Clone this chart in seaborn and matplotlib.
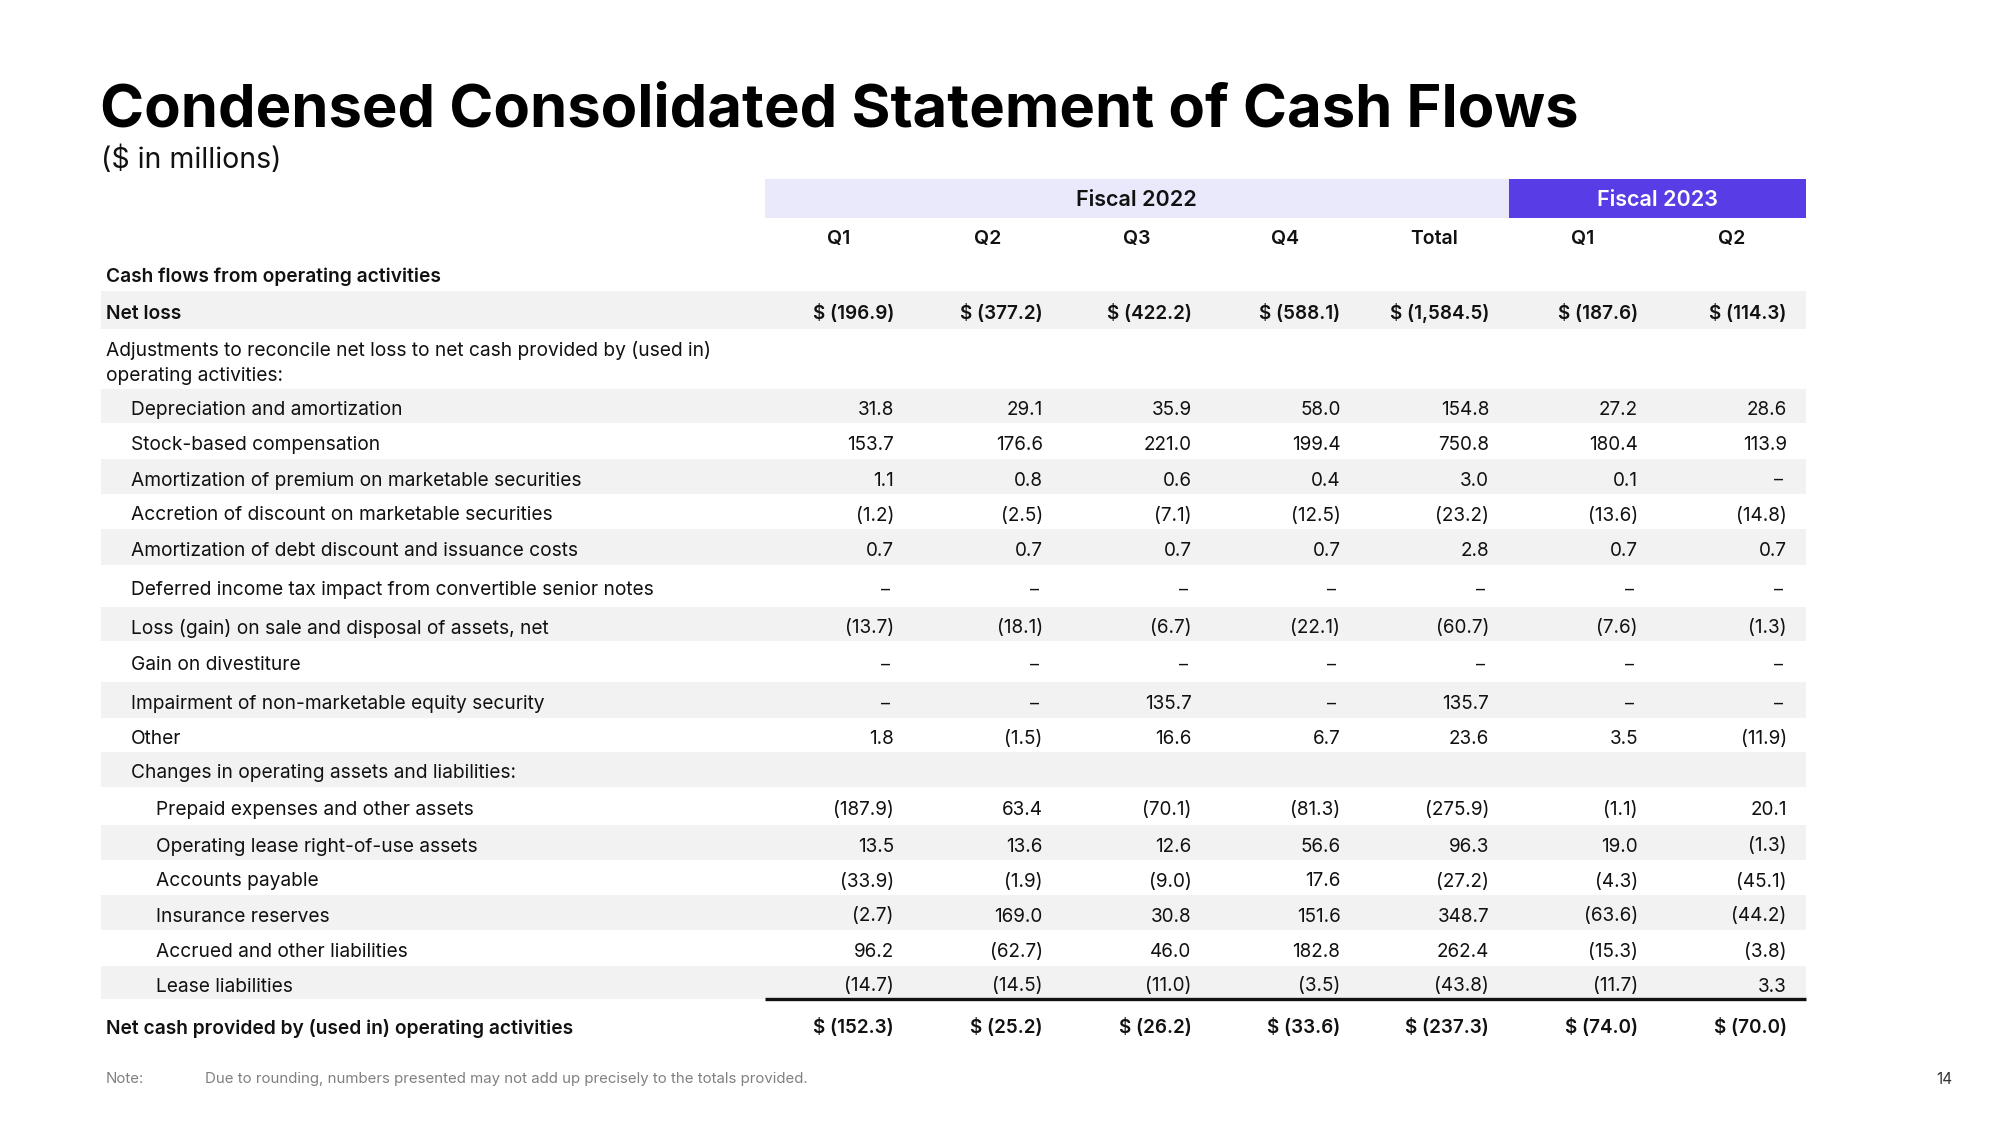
import numpy as np
import pandas as pd
import seaborn as sns
import matplotlib.pyplot as plt

# ---------------- data ----------------
row_labels = [
    "Cash flows from operating activities",
    "Net loss",
    "Adjustments to reconcile net loss to net cash provided by (used in)\noperating activities:",
    "Depreciation and amortization",
    "Stock-based compensation",
    "Amortization of premium on marketable securities",
    "Accretion of discount on marketable securities",
    "Amortization of debt discount and issuance costs",
    "Deferred income tax impact from convertible senior notes",
    "Loss (gain) on sale and disposal of assets, net",
    "Gain on divestiture",
    "Impairment of non-marketable equity security",
    "Other",
    "Changes in operating assets and liabilities:",
    "Prepaid expenses and other assets",
    "Operating lease right-of-use assets",
    "Accounts payable",
    "Insurance reserves",
    "Accrued and other liabilities",
    "Lease liabilities",
    "Net cash provided by (used in) operating activities",
]
row_indent = [0, 0, 0, 1, 1, 1, 1, 1, 1, 1, 1, 1, 1, 1, 2, 2, 2, 2, 2, 2, 0]
row_bold = [True, True] + [False] * 18 + [True]
row_dollar = [False, True] + [False] * 18 + [True]

col_labels = ["Q1", "Q2", "Q3", "Q4", "Total", "Q1", "Q2"]
col_fiscal = ["Fiscal 2022"] * 5 + ["Fiscal 2023"] * 2

nan = np.nan
fy22_q1 = [nan, -196.9, nan, 31.8, 153.7, 1.1, -1.2, 0.7, 0, -13.7, 0, 0, 1.8, nan,
           -187.9, 13.5, -33.9, -2.7, 96.2, -14.7, -152.3]
fy22_q2 = [nan, -377.2, nan, 29.1, 176.6, 0.8, -2.5, 0.7, 0, -18.1, 0, 0, -1.5, nan,
           63.4, 13.6, -1.9, 169.0, -62.7, -14.5, -25.2]
fy22_q3 = [nan, -422.2, nan, 35.9, 221.0, 0.6, -7.1, 0.7, 0, -6.7, 0, 135.7, 16.6, nan,
           -70.1, 12.6, -9.0, 30.8, 46.0, -11.0, -26.2]
fy22_q4 = [nan, -588.1, nan, 58.0, 199.4, 0.4, -12.5, 0.7, 0, -22.1, 0, 0, 6.7, nan,
           -81.3, 56.6, 17.6, 151.6, 182.8, -3.5, -33.6]
fy22_total = [nan, -1584.5, nan, 154.8, 750.8, 3.0, -23.2, 2.8, 0, -60.7, 0, 135.7, 23.6, nan,
              -275.9, 96.3, -27.2, 348.7, 262.4, -43.8, -237.3]
fy23_q1 = [nan, -187.6, nan, 27.2, 180.4, 0.1, -13.6, 0.7, 0, -7.6, 0, 0, 3.5, nan,
           -1.1, 19.0, -4.3, -63.6, -15.3, -11.7, -74.0]
fy23_q2 = [nan, -114.3, nan, 28.6, 113.9, 0, -14.8, 0.7, 0, -1.3, 0, 0, -11.9, nan,
           20.1, -1.3, -45.1, -44.2, -3.8, 3.3, -70.0]

df = pd.DataFrame(
    np.column_stack([fy22_q1, fy22_q2, fy22_q3, fy22_q4, fy22_total, fy23_q1, fy23_q2]),
    index=row_labels,
)

# ---------------- layout ----------------
table_top = 255
row_h = [36, 38, 60, 34, 36, 35, 35, 36, 42, 34, 41, 36, 34, 35, 38, 35, 35, 35, 36, 33, 51]
row_top = table_top + np.concatenate([[0], np.cumsum(row_h)[:-1]])
row_mid = row_top + np.array(row_h) / 2
left_x = 101
col_step = 148.8
col_center = 839 + col_step * np.arange(len(col_labels))
col_right = col_center + 55
indent_x = [106, 131, 156]

FONT = ["Inter", "DejaVu Sans"]
BAND = "#f2f2f2"
FY22 = "#e9e9fb"
FY23 = "#583ce6"


def fmt(v, dollar):
    if np.isnan(v):
        return ""
    if v == 0:
        return "–"
    s = f"{abs(v):,.1f}"
    s = f"({s})" if v < 0 else s
    return f"$ {s}" if dollar else s


sns.set_theme(style="white")
plt.rcParams["font.family"] = FONT

fig = plt.figure(figsize=(20, 11.25), dpi=100)
ax = fig.add_axes([0, 0, 1, 1])
ax.set_xlim(0, 2000)
ax.set_ylim(1125, 0)
ax.axis("off")

# title
ax.text(left_x - 1, 111, "Condensed Consolidated Statement of Cash Flows", fontsize=43,
        fontweight="bold", va="center", ha="left", color="#000000")
ax.text(left_x, 160, "($ in millions)", fontsize=20.5, va="center", ha="left", color="#111111")

# fiscal header bands
band_l = col_center - col_step / 2
band_r = col_center + col_step / 2
for fy, fc, tc in [("Fiscal 2022", FY22, "#111111"), ("Fiscal 2023", FY23, "white")]:
    idx = [i for i, f in enumerate(col_fiscal) if f == fy]
    x0, x1 = band_l[idx[0]], band_r[idx[-1]]
    ax.add_patch(plt.Rectangle((x0, 179), x1 - x0, 39, color=fc, lw=0))
    ax.text((x0 + x1) / 2, 200, fy, fontsize=15.5, fontweight="semibold", ha="center",
            va="center", color=tc)

for c, lab in enumerate(col_labels):
    ax.text(col_center[c], 239, lab, fontsize=14, fontweight="semibold", ha="center",
            va="center", color="#111111")

# rows
for r, lab in enumerate(row_labels):
    if r % 2 == 1 and r < len(row_labels) - 1:
        ax.add_patch(plt.Rectangle((left_x, row_top[r]), band_r[-1] - left_x, row_h[r],
                                   color=BAND, lw=0))
    ax.text(indent_x[row_indent[r]], row_mid[r] + 4, lab, fontsize=13.8,
            fontweight="semibold" if row_bold[r] else "normal", ha="left", va="center",
            color="#111111", linespacing=1.5)
    for c in range(len(col_labels)):
        s = fmt(df.iloc[r, c], row_dollar[r])
        if s == "–":
            ax.text(col_right[c] - 4, row_mid[r] + 4, s, fontsize=13, ha="right", va="center",
                    color="#111111")
        elif s:
            ax.text(col_right[c], row_mid[r] + 9, s, fontsize=13.6,
                    fontweight="semibold" if row_bold[r] else "normal",
                    ha="right", va="baseline", color="#111111")

# total rule
ax.plot([band_l[0], band_r[-1]], [row_top[-1], row_top[-1]], color="#111111", lw=2.4,
        solid_capstyle="butt")

# footer
ax.text(106, 1079, "Note:", fontsize=10.8, color="#808080", va="center")
ax.text(205, 1079, "Due to rounding, numbers presented may not add up precisely to the totals provided.",
        fontsize=10.8, color="#808080", va="center")
ax.text(1952, 1080, "14", fontsize=11, color="#333333", va="center", ha="right")

fig.savefig("out.png", dpi=100, facecolor="white")
